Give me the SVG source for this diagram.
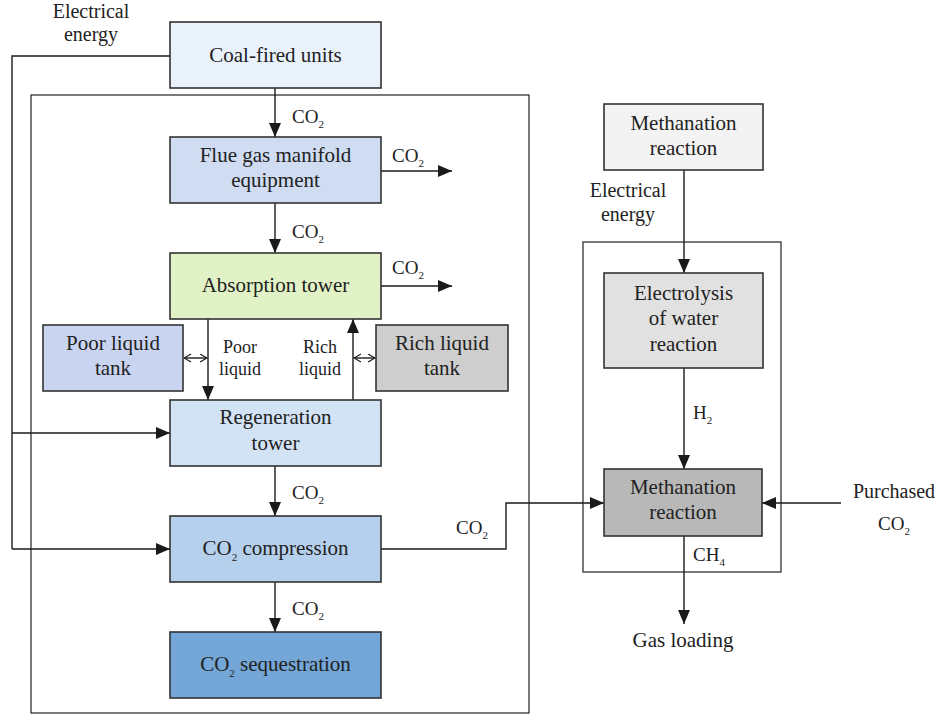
<svg xmlns="http://www.w3.org/2000/svg" width="943" height="718" viewBox="0 0 943 718">
  <defs>
    <marker id="arrow" markerUnits="userSpaceOnUse" markerWidth="15" markerHeight="13" refX="14" refY="6" orient="auto">
      <path d="M0,0 L14,6 L0,12 z" fill="#1a1a1a"/>
    </marker>
    <marker id="open" markerUnits="userSpaceOnUse" markerWidth="9" markerHeight="10" refX="8" refY="4.5" orient="auto-start-reverse">
      <path d="M1,0.5 L8,4.5 L1,8.5" fill="none" stroke="#1a1a1a" stroke-width="1.2"/>
    </marker>
    <style>
      .box { stroke: #333; stroke-width: 1.6; }
      .frame { fill: none; stroke: #333; stroke-width: 1.3; }
      .wire { fill: none; stroke: #1a1a1a; stroke-width: 1.4; }
      .arr { marker-end: url(#arrow); }
      .dbl { marker-start: url(#open); marker-end: url(#open); }
      text { font-family: "Liberation Serif", "Times New Roman", serif; fill: #222; }
      .lbl { font-size: 21px; text-anchor: middle; }
      .note { font-size: 20px; text-anchor: middle; }
      .sm { font-size: 18px; text-anchor: middle; }
      .chem { font-size: 19px; }
      .sub { font-size: 11px; }
    </style>
  </defs>

  <!-- system boundaries -->
  <g id="frames">
    <rect class="frame" x="31" y="95" width="498" height="618"/>
    <rect class="frame" x="583" y="242" width="198" height="330"/>
  </g>

  <!-- connectors -->
  <g id="connectors">
    <!-- electrical energy from the coal-fired units -->
    <polyline class="wire" points="170,56 12,56 12,549"/>
    <line class="wire arr" x1="12" y1="433" x2="170" y2="433"/>
    <line class="wire arr" x1="12" y1="549" x2="170" y2="549"/>
    <!-- main CO2 chain -->
    <line class="wire arr" x1="275" y1="88" x2="275" y2="137"/>
    <line class="wire arr" x1="275" y1="203" x2="275" y2="253"/>
    <line class="wire arr" x1="381" y1="171" x2="452" y2="171"/>
    <line class="wire arr" x1="381" y1="286" x2="452" y2="286"/>
    <line class="wire arr" x1="208" y1="319" x2="208" y2="400"/>
    <line class="wire arr" x1="353" y1="400" x2="353" y2="319"/>
    <line class="wire dbl" x1="184" y1="358" x2="207" y2="358"/>
    <line class="wire dbl" x1="354" y1="358" x2="375" y2="358"/>
    <line class="wire arr" x1="275" y1="466" x2="275" y2="516"/>
    <line class="wire arr" x1="275" y1="582" x2="275" y2="632"/>
    <!-- CO2 to the methanation reaction -->
    <polyline class="wire arr" points="381,549 506,549 506,503 604,503"/>
    <!-- power-to-gas side -->
    <line class="wire arr" x1="684" y1="170" x2="684" y2="273"/>
    <line class="wire arr" x1="684" y1="368" x2="684" y2="469"/>
    <line class="wire arr" x1="841" y1="503" x2="762" y2="503"/>
    <line class="wire arr" x1="684" y1="536" x2="684" y2="624"/>
  </g>

  <g id="coal">
    <rect class="box" x="170" y="22" width="211" height="66" fill="#e9f1fb"/>
    <text class="lbl" x="275.5" y="62">Coal-fired units</text>
  </g>
  <g id="flue">
    <rect class="box" x="170" y="137" width="211" height="66" fill="#cfdcf1"/>
    <text class="lbl" x="275.5" y="162">Flue gas manifold</text>
    <text class="lbl" x="275.5" y="187">equipment</text>
  </g>
  <g id="absorption">
    <rect class="box" x="170" y="253" width="211" height="66" fill="#e1f3c6"/>
    <text class="lbl" x="275.5" y="292">Absorption tower</text>
  </g>
  <g id="poor-tank">
    <rect class="box" x="43" y="325" width="140" height="66" fill="#c9d5f0"/>
    <text class="lbl" x="113" y="350">Poor liquid</text>
    <text class="lbl" x="113" y="375">tank</text>
  </g>
  <g id="rich-tank">
    <rect class="box" x="376" y="325" width="132" height="66" fill="#cdcecd"/>
    <text class="lbl" x="442" y="350">Rich liquid</text>
    <text class="lbl" x="442" y="375">tank</text>
  </g>
  <g id="regeneration">
    <rect class="box" x="170" y="400" width="211" height="66" fill="#d2e3f6"/>
    <text class="lbl" x="275.5" y="424">Regeneration</text>
    <text class="lbl" x="275.5" y="450">tower</text>
  </g>
  <g id="compression">
    <rect class="box" x="170" y="516" width="211" height="66" fill="#b5d0ec"/>
    <text class="lbl" x="275.5" y="555">CO<tspan class="sub" dy="6">2</tspan><tspan dy="-6"> compression</tspan></text>
  </g>
  <g id="sequestration">
    <rect class="box" x="170" y="632" width="211" height="66" fill="#74a6d7"/>
    <text class="lbl" x="275.5" y="671">CO<tspan class="sub" dy="6">2</tspan><tspan dy="-6"> sequestration</tspan></text>
  </g>
  <g id="methanation-source">
    <rect class="box" x="604" y="104" width="159" height="66" fill="#f3f3f3"/>
    <text class="lbl" x="683.5" y="130">Methanation</text>
    <text class="lbl" x="683.5" y="155">reaction</text>
  </g>
  <g id="electrolysis">
    <rect class="box" x="604" y="273" width="159" height="95" fill="#e1e1e1"/>
    <text class="lbl" x="683.5" y="300">Electrolysis</text>
    <text class="lbl" x="683.5" y="325">of water</text>
    <text class="lbl" x="683.5" y="351">reaction</text>
  </g>
  <g id="methanation">
    <rect class="box" x="604" y="469" width="158" height="67" fill="#b8b8b8"/>
    <text class="lbl" x="683" y="494">Methanation</text>
    <text class="lbl" x="683" y="519">reaction</text>
  </g>

  <!-- flow labels -->
  <g id="labels">
    <text class="note" x="91" y="18">Electrical</text>
    <text class="note" x="91" y="41">energy</text>
    <text class="note" x="628" y="197">Electrical</text>
    <text class="note" x="628" y="221">energy</text>
    <text class="sm" x="240" y="353">Poor</text>
    <text class="sm" x="240" y="375">liquid</text>
    <text class="sm" x="320" y="353">Rich</text>
    <text class="sm" x="320" y="375">liquid</text>
    <text class="chem" x="292" y="123">CO<tspan class="sub" dy="5">2</tspan></text>
    <text class="chem" x="392" y="162">CO<tspan class="sub" dy="5">2</tspan></text>
    <text class="chem" x="292" y="238">CO<tspan class="sub" dy="5">2</tspan></text>
    <text class="chem" x="392" y="274">CO<tspan class="sub" dy="5">2</tspan></text>
    <text class="chem" x="292" y="499">CO<tspan class="sub" dy="5">2</tspan></text>
    <text class="chem" x="292" y="615">CO<tspan class="sub" dy="5">2</tspan></text>
    <text class="chem" x="456" y="534">CO<tspan class="sub" dy="5">2</tspan></text>
    <text class="chem" x="693" y="419">H<tspan class="sub" dy="5">2</tspan></text>
    <text class="chem" x="693" y="561">CH<tspan class="sub" dy="5">4</tspan></text>
    <text class="note" x="894" y="498">Purchased</text>
    <text class="chem" x="878" y="530">CO<tspan class="sub" dy="5">2</tspan></text>
    <text class="lbl" x="683" y="647">Gas loading</text>
  </g>
</svg>
